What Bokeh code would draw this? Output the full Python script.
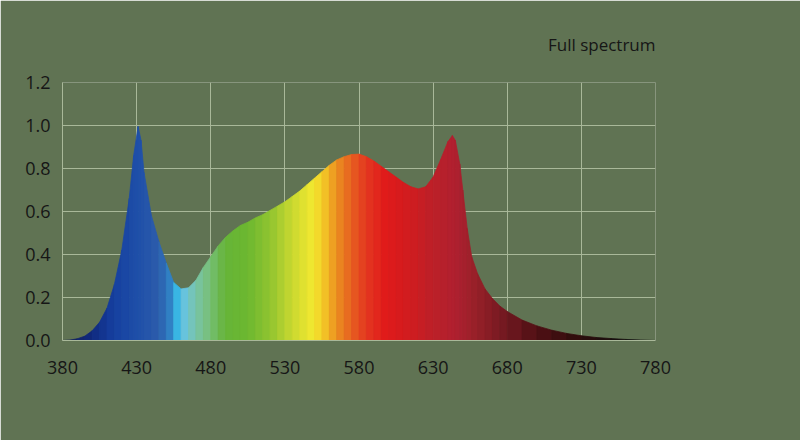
import numpy as np
from bokeh.plotting import figure
from bokeh.models import FixedTicker
from bokeh.embed import file_html
from bokeh.resources import INLINE

# ---- data ----
wavelength = [380, 385, 390, 395, 400, 405, 410, 415, 420, 425, 428, 431, 433, 435,
              440, 445, 450, 455, 460, 465, 470, 475, 480, 485, 490, 495, 500, 505,
              510, 515, 520, 525, 530, 535, 540, 545, 550, 555, 560, 565, 570, 575,
              580, 585, 590, 595, 600, 605, 610, 615, 620, 625, 630, 635, 640, 643,
              645, 648, 650, 653, 656, 660, 665, 670, 675, 680, 690, 700, 710, 720,
              730, 740, 750, 760, 770, 780]
intensity = [0.0, 0.002, 0.008, 0.02, 0.045, 0.085, 0.15, 0.26, 0.42, 0.66, 0.86, 0.995,
             0.93, 0.78, 0.58, 0.46, 0.36, 0.27, 0.24, 0.245, 0.28, 0.34, 0.39, 0.44,
             0.48, 0.51, 0.535, 0.55, 0.57, 0.585, 0.605, 0.625, 0.645, 0.67, 0.695,
             0.725, 0.755, 0.785, 0.815, 0.84, 0.855, 0.865, 0.867, 0.855, 0.835, 0.81,
             0.785, 0.76, 0.735, 0.715, 0.705, 0.715, 0.76, 0.84, 0.925, 0.953, 0.93,
             0.82, 0.70, 0.52, 0.39, 0.31, 0.24, 0.195, 0.16, 0.135, 0.095, 0.068,
             0.048, 0.033, 0.022, 0.014, 0.009, 0.005, 0.002, 0.0]

x_ticks = [380, 430, 480, 530, 580, 630, 680, 730, 780]
y_ticks = [0.0, 0.2, 0.4, 0.6, 0.8, 1.0, 1.2]
y_tick_labels = ["0.0", "0.2", "0.4", "0.6", "0.8", "1.0", "1.2"]
title_text = "Full spectrum"

# colour palette along the spectrum (style)
color_stop_nm = [380, 400, 415, 430, 445, 452, 457, 463, 470, 478, 490, 505, 520, 535,
                 548, 555, 565, 575, 585, 598, 615, 630, 645, 660, 680, 700, 730, 760, 780]
color_stop_hex = ["#141e50", "#102a80", "#1640a0", "#1e4ea8", "#2c5cac", "#2f7ac0",
                  "#34b4e4", "#6cc4dc", "#78c4a8", "#78c080", "#66b438", "#6cb830",
                  "#90c430", "#c8d830", "#f0e830", "#f4d028", "#ec9020", "#e66020",
                  "#e43820", "#e01a1a", "#d01c20", "#bc2028", "#b02030", "#962028",
                  "#701820", "#501014", "#2c0c0c", "#141010", "#101010"]

BG = "#607353"
GRID = "#a9b899"
TEXT = "#161616"


def hex_rgb(h):
    return [int(h[i:i + 2], 16) for i in (1, 3, 5)]


stop_rgb = np.array([hex_rgb(h) for h in color_stop_hex], dtype=float)


def spectrum_color(nm):
    r = np.interp(nm, color_stop_nm, stop_rgb[:, 0])
    g = np.interp(nm, color_stop_nm, stop_rgb[:, 1])
    b = np.interp(nm, color_stop_nm, stop_rgb[:, 2])
    return "#%02x%02x%02x" % (int(round(r)), int(round(g)), int(round(b)))


xs, ys, cols = [], [], []
for i in range(len(wavelength) - 1):
    x0, x1 = wavelength[i], wavelength[i + 1]
    y0, y1 = intensity[i], intensity[i + 1]
    xs.append([x0, x1, x1, x0])
    ys.append([0, 0, y1, y0])
    cols.append(spectrum_color((x0 + x1) / 2))

p = figure(width=800, height=440, x_range=(380, 780), y_range=(0, 1.2),
           output_backend="svg", toolbar_location=None,
           min_border_left=62, min_border_right=145, min_border_top=82,
           min_border_bottom=100, title=title_text)
p.background_fill_color = BG
p.border_fill_color = BG
p.outline_line_color = None

p.title.align = "right"
p.title.text_font = "Open Sans"
p.title.text_font_size = "17px"
p.title.text_font_style = "normal"
p.title.text_color = TEXT
p.title.standoff = 54

p.patches(xs, ys, fill_color=cols, line_color=cols, line_width=0.8)

for ax in (p.xaxis[0], p.yaxis[0]):
    ax.axis_line_color = GRID
    ax.axis_line_width = 1
    ax.major_tick_line_color = None
    ax.minor_tick_line_color = None
    ax.major_tick_in = 0
    ax.major_tick_out = 0
    ax.major_label_text_font = "Open Sans"
    ax.major_label_text_font_size = "18px"
    ax.major_label_text_color = TEXT

p.xaxis.ticker = FixedTicker(ticks=x_ticks)
p.yaxis.ticker = FixedTicker(ticks=y_ticks)
p.yaxis.major_label_overrides = {t: s for t, s in zip(y_ticks, y_tick_labels)}
p.xaxis.major_label_standoff = 20
p.yaxis.major_label_standoff = 12

p.xgrid.ticker = FixedTicker(ticks=x_ticks)
p.ygrid.ticker = FixedTicker(ticks=y_ticks)
p.grid.grid_line_color = GRID
p.grid.grid_line_width = 1

open("out.html", "w").write(file_html(p, INLINE))
